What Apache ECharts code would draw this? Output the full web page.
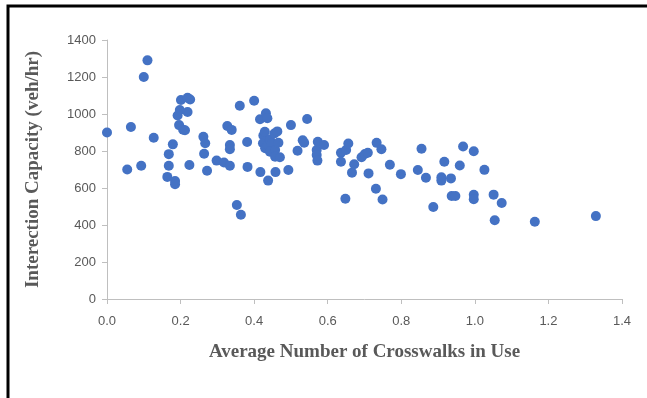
<!DOCTYPE html>
<html>
<head>
<meta charset="utf-8">
<script src="https://cdn.jsdelivr.net/npm/echarts@6/dist/echarts.min.js"></script>
<style>
  html, body { margin: 0; padding: 0; background: #fff; }
  #chart { width: 647px; height: 398px; }
</style>
</head>
<body>
<div id="chart"></div>
<script>
// crosswalks in use (x) vs. intersection capacity (y)
const crosswalks = [
  0.000, 0.055, 0.065, 0.093, 0.100, 0.110, 0.127, 0.164, 0.168, 0.168,
  0.179, 0.185, 0.185, 0.192, 0.196, 0.198, 0.201, 0.207, 0.212, 0.219,
  0.226, 0.219, 0.224, 0.262, 0.267, 0.264, 0.272, 0.298, 0.318, 0.334,
  0.327, 0.339, 0.334, 0.334, 0.353, 0.364, 0.361, 0.381, 0.382, 0.400,
  0.416, 0.417, 0.425, 0.429, 0.432, 0.436, 0.438, 0.424, 0.430, 0.437,
  0.443, 0.448, 0.443, 0.457, 0.457, 0.466, 0.470, 0.458, 0.455, 0.463,
  0.493, 0.500, 0.518, 0.532, 0.536, 0.544, 0.570, 0.570, 0.572, 0.573,
  0.590, 0.636, 0.636, 0.648, 0.650, 0.656, 0.666, 0.672, 0.692, 0.701,
  0.709, 0.711, 0.731, 0.733, 0.746, 0.749, 0.769, 0.799, 0.845, 0.855,
  0.867, 0.887, 0.909, 0.909, 0.917, 0.935, 0.937, 0.947, 0.959, 0.968,
  0.997, 0.997, 0.997, 1.026, 1.051, 1.073, 1.054, 1.163, 1.329
];
const capacity = [
  900, 700, 930, 720, 1200, 1290, 872, 660, 783, 720,
  836, 638, 620, 992, 940, 1022, 1076, 915, 912, 1088,
  1078, 1011, 724, 877, 842, 785, 693, 748, 738, 720,
  935, 914, 832, 810, 508, 455, 1045, 849, 714, 1072,
  972, 686, 884, 904, 1004, 977, 640, 842, 815, 832,
  862, 842, 796, 805, 769, 845, 766, 686, 895, 906,
  697, 940, 801, 858, 845, 973, 805, 778, 748, 850,
  832, 791, 742, 542, 805, 841, 683, 728, 766, 784,
  791, 679, 596, 844, 809, 538, 726, 675, 697, 812,
  655, 497, 658, 640, 742, 652, 557, 557, 722, 824,
  799, 563, 539, 698, 564, 519, 426, 418, 448
];

const xTitle = 'Average Number of Crosswalks in Use';
const yTitle = 'Interection Capacity (veh/hr)';

const points = crosswalks.map((x, i) => [x, capacity[i]]);

const chart = echarts.init(document.getElementById('chart'));

const axisGray = '#bfbfbf';
const labelGray = '#595959';

const titleStyle = {
  fontFamily: 'Liberation Serif',
  fontWeight: 'bold',
  fontSize: 19,
  color: labelGray
};

chart.setOption({
  animation: false,
  backgroundColor: '#fff',
  grid: { left: 107, right: 25, top: 40, bottom: 99 },
  graphic: [
    {
      type: 'polyline',
      shape: { points: [[8, 398], [8, 6], [647, 6]] },
      style: { stroke: '#000', lineWidth: 3, fill: null }
    }
  ],
  xAxis: {
    type: 'value',
    min: 0,
    max: 1.4,
    interval: 0.2,
    name: xTitle,
    nameLocation: 'middle',
    nameGap: 44,
    nameTextStyle: titleStyle,
    splitLine: { show: false },
    axisLine: { show: true, lineStyle: { color: axisGray, width: 1 } },
    axisTick: { show: true, length: 5, lineStyle: { color: axisGray } },
    axisLabel: {
      color: labelGray,
      fontFamily: 'Liberation Sans',
      fontSize: 13,
      margin: 16,
      formatter: v => v.toFixed(1)
    }
  },
  yAxis: {
    type: 'value',
    min: 0,
    max: 1400,
    interval: 200,
    name: yTitle,
    nameLocation: 'middle',
    nameGap: 64,
    nameTextStyle: titleStyle,
    splitLine: { show: false },
    axisLine: { show: true, lineStyle: { color: axisGray, width: 1 } },
    axisTick: { show: true, length: 5, lineStyle: { color: axisGray } },
    axisLabel: {
      color: labelGray,
      fontFamily: 'Liberation Sans',
      fontSize: 13,
      margin: 11,
      formatter: v => String(v)
    }
  },
  series: [
    {
      type: 'scatter',
      data: points,
      symbolSize: 10,
      itemStyle: { color: '#4472c4', opacity: 1 }
    }
  ]
});
</script>
</body>
</html>
